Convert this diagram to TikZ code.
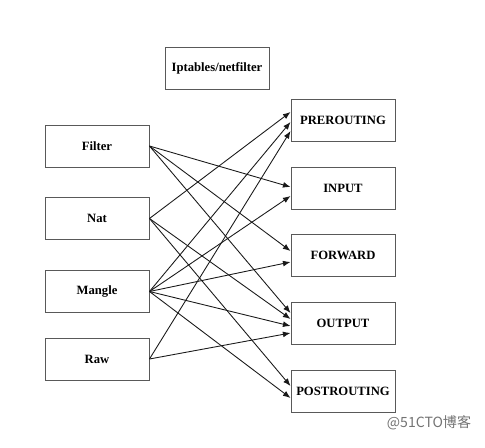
\documentclass[tikz,border=0pt]{standalone}
\usepackage{fontspec}
\setmainfont{Liberation Serif}
\newfontfamily\cjk{Noto Sans CJK SC}
\usetikzlibrary{calc,arrows.meta,positioning}
\tikzset{
    tablebox/.style={
    rectangle,draw=black!65,line width=0.8pt,fill=white,
    minimum width=3.12cm,minimum height=1.26cm,
    font=\fontsize{10.8}{13}\selectfont\bfseries
    },
    chainbox/.style={
    tablebox
    },
    link/.style={
    draw=black!90,line width=0.75pt,-{Latex[length=6.5pt,width=5pt]}
    },
}
\begin{document}
\begin{tikzpicture}[x=0.03cm,y=-0.03cm]
  \useasboundingbox (0,0) rectangle (485,447);
  \node[tablebox] (NF) at (217,68) {Iptables/netfilter};

  \node[tablebox] (FILTER) at (97,146) {Filter};
  \node[tablebox] (NAT) at (97,218.5) {Nat};
  \node[tablebox] (MANGLE) at (97,291.5) {Mangle};
  \node[tablebox] (RAW) at (97,359) {Raw};

  \node[chainbox] (PRE) at (343,120) {PREROUTING};
  \node[chainbox] (IN) at (343,188) {INPUT};
  \node[chainbox] (FWD) at (343,255) {FORWARD};
  \node[chainbox] (OUT) at (343,323) {OUTPUT};
  \node[chainbox] (POST) at (343,391) {POSTROUTING};

  \path
    (FILTER.east) edge [link] ($(IN.west)+(0,-1)$)
                  edge [link] ($(FWD.west)+(0,-4)$)
                  edge [link] ($(OUT.west)+(0,-10)$)
    (NAT.east)    edge [link] ($(PRE.west)+(0,-8)$)
                  edge [link] ($(OUT.west)+(0,-4)$)
                  edge [link] ($(POST.west)+(0,-5)$)
    (MANGLE.east) edge [link] ($(PRE.west)+(0,2)$)
                  edge [link] ($(IN.west)+(0,8)$)
                  edge [link] ($(FWD.west)+(0,7)$)
                  edge [link] ($(OUT.west)+(0,3)$)
                  edge [link] ($(POST.west)+(0,7)$)
    (RAW.east)    edge [link] ($(PRE.west)+(0,11)$)
                  edge [link] ($(OUT.west)+(0,10)$);

  \node[text=black!55,font=\cjk\fontsize{12}{14}\selectfont] (mark) at (429,423) {@51CTO博客};
\end{tikzpicture}
\end{document}
